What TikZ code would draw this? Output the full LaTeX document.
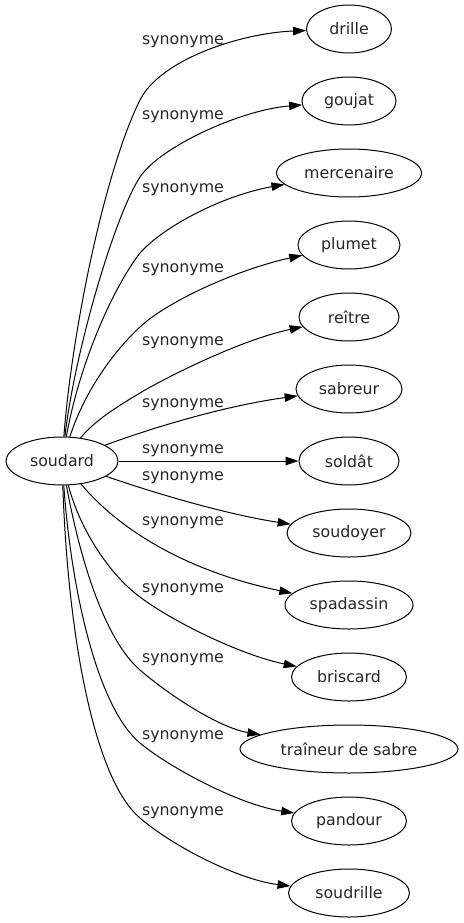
\documentclass[tikz,border=0pt]{standalone}
\usepackage{fontspec}
\setmainfont{DejaVu Sans}
\usetikzlibrary{arrows.meta,shapes.geometric}
\begin{document}
\begin{tikzpicture}[x=1pt,y=-1pt,
  word/.style={draw,ellipse,line width=1pt,minimum height=48pt,inner sep=0pt,text=black!85,font=\fontsize{15.8}{18}\selectfont},
  lbl/.style={font=\fontsize{15.8}{18}\selectfont,text=black!85,inner sep=0pt},
  edge/.style={line width=1pt,-{Triangle[length=13pt,width=8.5pt]}}]
\useasboundingbox (0,0) rectangle (463,923);
\node[word,minimum width=112pt] (s) at (62,461) {soudard};
\node[word,minimum width=85pt] (t1) at (349,29) {drille};
\node[word,minimum width=94pt] (t2) at (349,101) {goujat};
\node[word,minimum width=145pt] (t3) at (349,173) {mercenaire};
\node[word,minimum width=102pt] (t4) at (349,245) {plumet};
\node[word,minimum width=100pt] (t5) at (349,317) {reître};
\node[word,minimum width=106pt] (t6) at (349,389) {sabreur};
\node[word,minimum width=100pt] (t7) at (349,461) {soldât};
\node[word,minimum width=124pt] (t8) at (349,533) {soudoyer};
\node[word,minimum width=128pt] (t9) at (349,605) {spadassin};
\node[word,minimum width=115pt] (t10) at (349,677) {briscard};
\node[word,minimum width=218pt] (t11) at (349,749) {traîneur de sabre};
\node[word,minimum width=115pt] (t12) at (349,821) {pandour};
\node[word,minimum width=121pt] (t13) at (349,893) {soudrille};
% labels
\node[lbl] (l1) at (183,42) {synonyme};
\node[lbl] (l2) at (183,117) {synonyme};
\node[lbl] (l3) at (183,190) {synonyme};
\node[lbl] (l4) at (183,270) {synonyme};
\node[lbl] (l5) at (183,343) {synonyme};
\node[lbl] (l6) at (183,405) {synonyme};
\node[lbl] (l7) at (183,451) {synonyme};
\node[lbl] (l8) at (183,478) {synonyme};
\node[lbl] (l9) at (183,523) {synonyme};
\node[lbl] (l10) at (183,590) {synonyme};
\node[lbl] (l11) at (183,660) {synonyme};
\node[lbl] (l12) at (183,737) {synonyme};
\node[lbl] (l13) at (183,813) {synonyme};
% waypoints
\coordinate (k1) at (140,100);
\coordinate (k2) at (140,177);
\coordinate (k3) at (140,253);
\coordinate (k4) at (140,327);
\coordinate (k5) at (140,393);
\coordinate (k10) at (140,597);
\coordinate (k11) at (140,670);
\coordinate (k12) at (140,743);
\coordinate (k13) at (140,818);
% edges
\draw[edge] (s) .. controls (72,330) and (105,170) .. (k1) .. controls (160,60) and (240,33) .. (t1);
\draw[edge] (s) .. controls (75,350) and (115,215) .. (k2) .. controls (160,147) and (240,110) .. (t2);
\draw[edge] (s) .. controls (80,360) and (115,285) .. (k3) .. controls (165,225) and (225,195) .. (t3);
\draw[edge] (s) .. controls (85,390) and (115,350) .. (k4) .. controls (165,303) and (235,270) .. (t4);
\draw[edge] (s) .. controls (95,420) and (120,405) .. (k5) .. controls (165,378) and (240,340) .. (t5);
\draw[edge] (s) .. controls (160,425) and (230,405) .. (t6);
\draw[edge] (s) -- (t7);
\draw[edge] (s) .. controls (160,495) and (230,515) .. (t8);
\draw[edge] (s) .. controls (115,525) and (180,570) .. (t9);
\draw[edge] (s) .. controls (80,530) and (110,575) .. (k10) .. controls (170,620) and (240,655) .. (t10);
\draw[edge] (s) .. controls (80,560) and (105,640) .. (k11) .. controls (170,696) and (220,728) .. (t11);
\draw[edge] (s) .. controls (72,600) and (100,710) .. (k12) .. controls (170,768) and (240,805) .. (t12);
\draw[edge] (s) .. controls (68,640) and (95,780) .. (k13) .. controls (175,848) and (240,880) .. (t13);
\end{tikzpicture}
\end{document}
